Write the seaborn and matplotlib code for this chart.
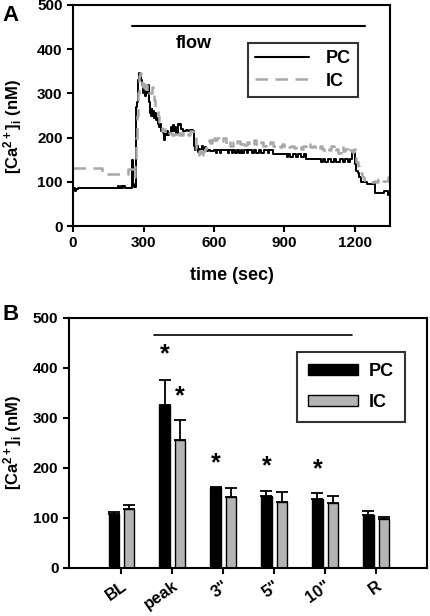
import numpy as np
import pandas as pd
import matplotlib
matplotlib.use("Agg")
import matplotlib.pyplot as plt
import seaborn as sns
from matplotlib.patches import Patch
from matplotlib.lines import Line2D

# ── data: panel A traces (time in sec, [Ca2+]i in nM) ──
pc_time = [0, 6, 12, 20, 190, 196, 202, 208, 214, 220, 246, 250, 254, 260, 266,
           270, 274, 278, 282, 286, 290, 294, 298, 302, 306, 310, 314, 318, 322,
           326, 330, 334, 338, 342, 346, 350, 354, 358, 362, 366, 370, 374, 378,
           382, 386, 390, 394, 400, 405, 410, 415, 420, 425, 430, 435, 440, 445,
           450, 455, 460, 470, 480, 490, 500, 510, 515, 520, 525, 530, 535, 540,
           545, 550, 555, 560, 565, 575, 585, 600, 610, 615, 625, 630, 650, 660,
           665, 675, 680, 690, 700, 705, 715, 720, 730, 740, 745, 760, 770, 780,
           790, 800, 815, 830, 835, 850, 900, 910, 915, 925, 935, 950, 960, 970,
           985, 990, 1050, 1055, 1065, 1075, 1085, 1100, 1110, 1120, 1135, 1150,
           1160, 1170, 1180, 1190, 1196, 1200, 1206, 1212, 1220, 1228, 1250, 1280,
           1285, 1320, 1325, 1335, 1340, 1350]
pc_vals = [85, 80, 84, 87, 90, 87, 91, 87, 90, 87, 87, 150, 95, 88, 110,
           270, 280, 330, 345, 340, 330, 320, 300, 310, 295, 315, 300, 320, 280,
           255, 250, 265, 250, 260, 245, 255, 240, 245, 230, 225, 230, 215, 220,
           210, 195, 210, 205, 215, 205, 210, 225, 215, 228, 215, 225, 210, 230,
           228, 230, 220, 215, 218, 216, 218, 215, 180, 172, 180, 168, 175, 165,
           172, 180, 172, 178, 170, 172, 170, 172, 166, 172, 166, 172, 172, 165,
           172, 166, 172, 165, 172, 166, 172, 165, 172, 166, 172, 165, 172, 166,
           172, 165, 172, 165, 172, 163, 163, 157, 163, 156, 163, 157, 163, 156,
           163, 151, 151, 145, 151, 145, 151, 145, 151, 145, 151, 145,
           151, 145, 151, 170, 165, 140, 125, 120, 110, 100, 95, 95,
           75, 75, 80, 80, 70, 70]

ic_time = [0, 120, 125, 228, 232, 250, 258, 264, 268, 272, 276, 280, 284, 288,
           292, 296, 300, 305, 310, 315, 320, 325, 330, 335, 340, 345, 350, 355,
           360, 365, 370, 375, 380, 385, 390, 395, 400, 410, 420, 430, 440, 450,
           460, 470, 480, 490, 500, 510, 520, 525, 530, 535, 540, 545, 550, 555,
           560, 565, 570, 580, 585, 590, 595, 600, 605, 615, 620, 630, 640, 650,
           660, 670, 680, 690, 700, 710, 720, 730, 740, 750, 760, 770, 780, 790,
           800, 810, 820, 830, 840, 850, 860, 870, 880, 890, 900, 910, 920, 930,
           940, 950, 960, 970, 980, 990, 1000, 1010, 1020, 1030, 1040, 1050, 1060,
           1070, 1080, 1090, 1100, 1110, 1120, 1130, 1140, 1150, 1160, 1170, 1180,
           1190, 1195, 1200, 1206, 1212, 1220, 1230, 1240, 1260, 1270, 1280, 1290,
           1300, 1310, 1320, 1330, 1340, 1350]
ic_vals = [132, 132, 117, 117, 130, 130, 110, 150, 200, 250, 300, 340, 345, 330,
           320, 315, 325, 310, 320, 305, 310, 300, 300, 315, 300, 285, 270, 260,
           250, 235, 230, 225, 215, 220, 210, 212, 215, 210, 205, 208, 200, 210,
           205, 215, 210, 205, 215, 210, 200, 175, 160, 170, 165, 175, 160, 170,
           175, 185, 190, 195, 188, 200, 190, 198, 195, 200, 190, 192, 198, 185,
           192, 180, 190, 183, 192, 185, 195, 183, 190, 182, 185, 195, 185, 180,
           190, 182, 185, 180, 190, 182, 180, 185, 178, 185, 180, 185, 178, 180,
           176, 183, 178, 175, 180, 176, 185, 178, 182, 178, 172, 180, 175,
           168, 175, 172, 182, 168, 175, 165, 180, 170, 175, 165, 172,
           168, 175, 160, 145, 135, 120, 110, 105, 105, 100, 102, 100,
           106, 100, 102, 103, 110, 110]

# ── data: panel B bars ──
conditions = ["BL", "peak", '3"', '5"', '10"', "R"]
pc_mean = [108, 325, 160, 143, 137, 106]
pc_err = [3, 51, 2, 10, 12, 7]
ic_mean = [118, 255, 141, 131, 129, 97]
ic_err = [8, 41, 18, 21, 15, 4]
stars = [("peak", "PC", 427), ("peak", "IC", 343), ('3"', "PC", 210),
         ('5"', "PC", 203), ('10"', "PC", 197)]

GRAY_LINE = "#a8a8a8"
GRAY_BAR = "#b4b4b4"

sns.set_style("ticks")
plt.rcParams["font.family"] = ["Liberation Sans", "DejaVu Sans"]
plt.rcParams["font.weight"] = "bold"
plt.rcParams["mathtext.fontset"] = "custom"
plt.rcParams["mathtext.rm"] = "Liberation Sans:bold"
plt.rcParams["mathtext.it"] = "Liberation Sans:bold"
plt.rcParams["mathtext.bf"] = "Liberation Sans:bold"
for key in ["text.color", "axes.labelcolor", "axes.edgecolor",
            "xtick.color", "ytick.color"]:
    plt.rcParams[key] = "black"
plt.rcParams["axes.linewidth"] = 1.5
plt.rcParams["xtick.major.width"] = 1.5
plt.rcParams["ytick.major.width"] = 1.5
plt.rcParams["xtick.major.size"] = 4
plt.rcParams["ytick.major.size"] = 4
plt.rcParams["xtick.labelsize"] = 11
plt.rcParams["ytick.labelsize"] = 11

fig = plt.figure(figsize=(4.3, 6.16), dpi=100)
ax_a = fig.add_axes([0.170, 0.633, 0.737, 0.359])
ax_b = fig.add_axes([0.160, 0.078, 0.833, 0.406])

ylab = r"[Ca$^{2+}$]$_{\rm i}$ (nM)"

# ── Panel A ──
sns.lineplot(x=pc_time, y=pc_vals, ax=ax_a, color="black", lw=1.4,
             drawstyle="steps-post", estimator=None, sort=False)
sns.lineplot(x=ic_time, y=ic_vals, ax=ax_a, color=GRAY_LINE, lw=1.8,
             ls=(0, (5, 3)), drawstyle="steps-post", estimator=None, sort=False)
ax_a.set_xlim(0, 1350)
ax_a.set_ylim(0, 500)
ax_a.set_xticks([0, 300, 600, 900, 1200])
ax_a.set_yticks([0, 100, 200, 300, 400, 500])
ax_a.plot([251, 1243], [452, 452], color="black", lw=1.5)
ax_a.text(515, 412, "flow", ha="center", va="center", fontsize=13, fontweight="bold")
ax_a.set_xlabel("time (sec)", fontsize=13, fontweight="bold", labelpad=12)
ax_a.set_ylabel(ylab, fontsize=12, fontweight="bold")
ax_a.yaxis.set_label_coords(-0.155, 0.45)
handles_a = [Line2D([], [], color="black", lw=1.5),
             Line2D([], [], color=GRAY_LINE, lw=1.8, ls=(0, (5, 3)))]
leg = ax_a.legend(handles_a, ["PC", "IC"], loc="upper left",
                  bbox_to_anchor=(0.552, 0.828), borderaxespad=0, frameon=True,
                  fancybox=False, edgecolor="black", fontsize=13,
                  handlelength=3.0, borderpad=0.4, labelspacing=0.3,
                  handletextpad=0.9)
leg.get_frame().set_linewidth(1.5)
fig.text(0.005, 0.975, "A", fontsize=16, fontweight="bold", va="center")

# ── Panel B ──
df = pd.DataFrame({
    "cond": conditions * 2,
    "group": ["PC"] * len(conditions) + ["IC"] * len(conditions),
    "val": pc_mean + ic_mean,
})
sns.barplot(data=df, x="cond", y="val", hue="group", order=conditions,
            hue_order=["PC", "IC"], palette=["black", GRAY_BAR], width=0.6,
            gap=0.33, edgecolor="black", linewidth=1, errorbar=None,
            legend=False, ax=ax_b)
centers = {}
for cont, grp, err in zip(ax_b.containers, ["PC", "IC"], [pc_err, ic_err]):
    xs = [b.get_x() + b.get_width() / 2 for b in cont]
    hs = [b.get_height() for b in cont]
    ax_b.errorbar(xs, hs, yerr=[np.zeros(len(err)), err], fmt="none",
                  ecolor="black", elinewidth=1.3, capsize=4, capthick=1.3)
    for c, x in zip(conditions, xs):
        centers[(c, grp)] = x
for cond, grp, y in stars:
    ax_b.text(centers[(cond, grp)], y, "*", ha="center", va="center",
              fontsize=18, fontweight="bold")
ax_b.plot([0.65, 4.52], [466, 466], color="black", lw=1.2)
ax_b.set_xlim(-1.03, 6.0)
ax_b.set_ylim(0, 500)
ax_b.set_yticks([0, 100, 200, 300, 400, 500])
ax_b.set_xlabel("")
ax_b.set_ylabel(ylab, fontsize=12, fontweight="bold")
ax_b.yaxis.set_label_coords(-0.125, 0.5)
plt.setp(ax_b.get_xticklabels(), rotation=35, ha="right",
         rotation_mode="anchor", fontsize=12)
handles_b = [Patch(facecolor="black", edgecolor="black"),
             Patch(facecolor=GRAY_BAR, edgecolor="black")]
leg = ax_b.legend(handles_b, ["PC", "IC"], loc="upper left",
                  bbox_to_anchor=(0.637, 0.864), borderaxespad=0, frameon=True,
                  fancybox=False, edgecolor="black", fontsize=13,
                  handlelength=2.8, handleheight=0.55, borderpad=0.6,
                  labelspacing=0.8, handletextpad=0.6)
leg.get_frame().set_linewidth(1.5)
fig.text(0.005, 0.49, "B", fontsize=16, fontweight="bold", va="center")

for ax in (ax_a, ax_b):
    for s in ax.spines.values():
        s.set_visible(True)
        s.set_linewidth(1.5)
    ax.tick_params(direction="out")

fig.savefig("out.png", dpi=100)
